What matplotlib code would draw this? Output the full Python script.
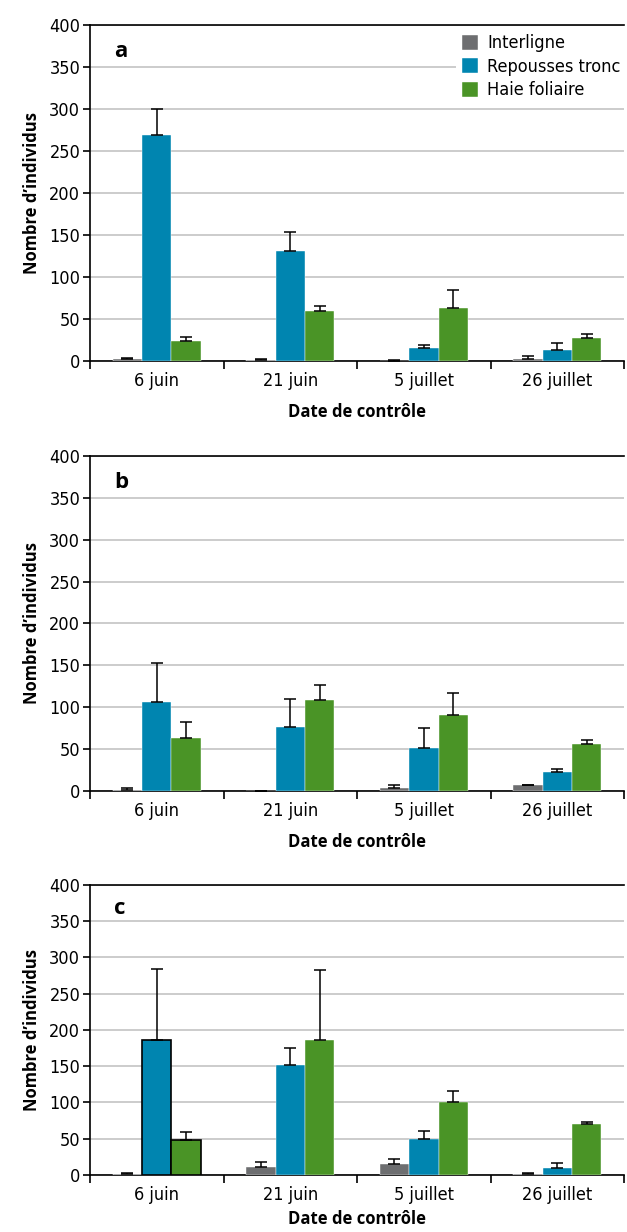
import numpy as np
import matplotlib
matplotlib.use("Agg")
import matplotlib.pyplot as plt

plt.rcParams["font.family"] = ["DejaVu Sans"]
plt.rcParams["font.stretch"] = "condensed"

dates = ["6 juin", "21 juin", "5 juillet", "26 juillet"]
series = ["Interligne", "Repousses tronc", "Haie foliaire"]
colors = ["#6d6e70", "#0085b0", "#4a9426"]

# mean values and top of error bar, per panel (rows = series)
a_mean = [[2, 1, 0.3, 2], [269, 130.5, 16, 12.7], [24, 60, 63, 27.4]]
a_top = [[4, 2, 1, 5.5], [300, 154, 19.5, 21], [28, 65.5, 84, 32.5]]
b_mean = [[1.6, 0.3, 3.2, 6.8], [106, 76.5, 51, 22.4], [63, 108, 91, 56]]
b_top = [[3.2, 0.5, 7.6, 7.2], [153, 110, 75, 25.6], [82, 127, 116.5, 60.5]]
c_mean = [[1.4, 10.5, 15.6, 1.4], [186, 151.7, 49.5, 9.6], [48.6, 185.6, 100.8, 70]]
c_top = [[2.7, 17.4, 22, 2.3], [283.6, 175.5, 60, 16.5], [59, 283, 116, 72.4]]

panels = [("a", a_mean, a_top), ("b", b_mean, b_top), ("c", c_mean, c_top)]

fig = plt.figure(figsize=(6.27, 12.32), dpi=100)
rects = [
    [0.1435, 0.707, 0.852, 0.2727],
    [0.1435, 0.358, 0.852, 0.272],
    [0.1435, 0.0463, 0.852, 0.2354],
]
xlabel_pads = [9, 9, 4]

bold_fam = ["Open Sans", "DejaVu Sans"]
x = np.arange(len(dates))
w = 0.22
for (letter, means, tops), r, lp in zip(panels, rects, xlabel_pads):
    ax = fig.add_axes(r)
    for i, name in enumerate(series):
        m = np.array(means[i])
        t = np.array(tops[i])
        bars = ax.bar(x + (i - 1) * w, m, w, color=colors[i], label=name,
                      edgecolor="white", linewidth=0.3, zorder=3)
        ax.errorbar(x + (i - 1) * w, m, yerr=[np.zeros_like(m), t - m],
                    fmt="none", ecolor="black", elinewidth=1.1, capsize=4,
                    capthick=1.1, zorder=4)
        if letter == "c" and i > 0:
            bars[0].set_edgecolor("black")
            bars[0].set_linewidth(1.2)
    ax.set_xlim(-0.5, 3.5)
    ax.set_ylim(0, 400)
    ax.set_yticks(range(0, 401, 50))
    ax.yaxis.grid(True, color="#c3c3c3", linewidth=1.2, zorder=0)
    ax.set_axisbelow(True)
    ax.set_xticks(x)
    ax.set_xticklabels(dates)
    ax.set_xticks(np.arange(-0.5, 3.6, 1), minor=True)
    ax.tick_params(axis="x", which="major", length=0, labelsize=13, pad=8)
    ax.tick_params(axis="x", which="minor", length=6, width=1.2, direction="out")
    ax.tick_params(axis="y", length=5, width=1.2, labelsize=13, pad=2)
    ax.spines["right"].set_visible(False)
    for s in ["left", "bottom", "top"]:
        ax.spines[s].set_linewidth(1.2)
    ax.set_ylabel("Nombre d\u2019individus", family=bold_fam, fontstretch="normal",
                  fontweight="bold", fontsize=12, labelpad=6)
    ax.set_xlabel("Date de contr\u00f4le", family=bold_fam, fontstretch="normal",
                  fontweight="bold", fontsize=12, labelpad=lp)
    ax.text(0.045, 0.92, letter, transform=ax.transAxes, fontsize=16,
            fontweight="bold", family=bold_fam, va="center")
    if letter == "a":
        leg = ax.legend(loc="upper right", bbox_to_anchor=(1.02, 1.015), frameon=True,
                        fancybox=False, edgecolor="white", framealpha=1,
                        prop={"size": 13, "stretch": "condensed"},
                        handlelength=0.9, handleheight=0.9,
                        handletextpad=0.5, labelspacing=0.3, borderpad=0.3)
        leg.get_frame().set_linewidth(0)

fig.savefig("out.png", dpi=100)
